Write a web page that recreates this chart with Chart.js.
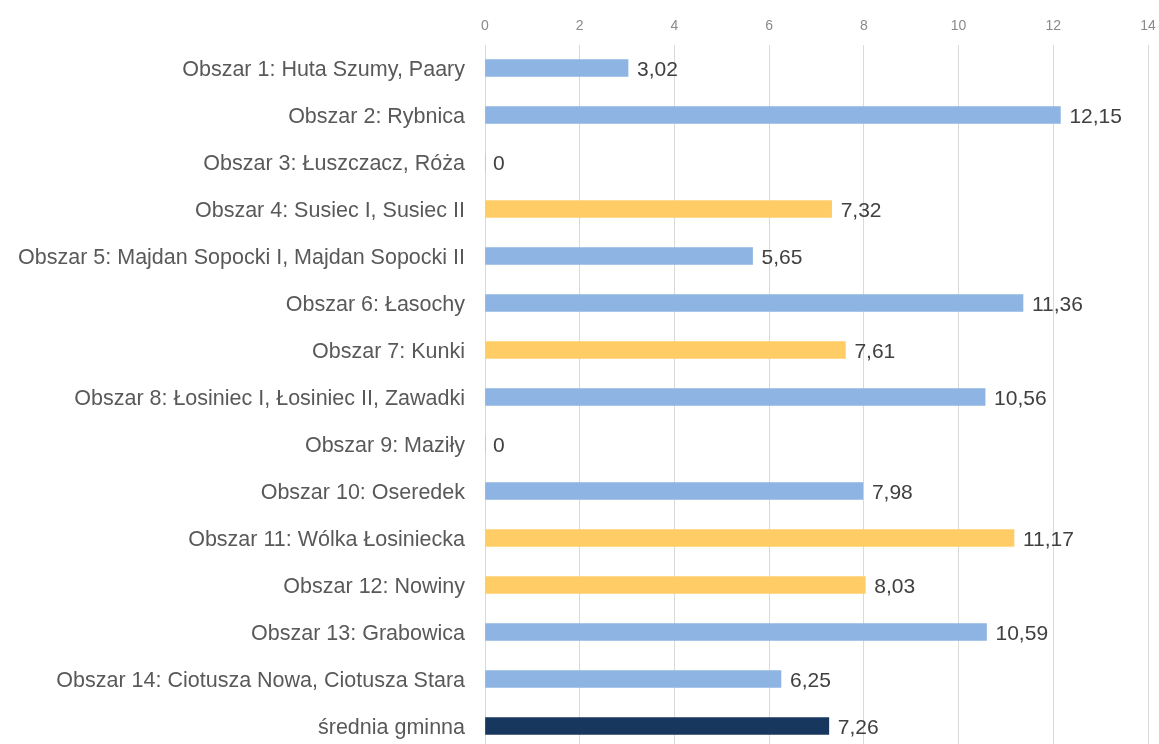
<!DOCTYPE html>
<html>
<head>
<meta charset="utf-8">
<script src="https://cdn.jsdelivr.net/npm/chart.js@4"></script>
<style>
html,body{margin:0;padding:0;background:#fff;overflow:hidden;}
canvas{display:block;}
</style>
</head>
<body>
<canvas id="c" width="1159" height="750" style="width:1159px;height:750px;"></canvas>
<script>
const categories = [
  "Obszar 1: Huta Szumy, Paary",
  "Obszar 2: Rybnica",
  "Obszar 3: Łuszczacz, Róża",
  "Obszar 4: Susiec I, Susiec II",
  "Obszar 5: Majdan Sopocki I, Majdan Sopocki II",
  "Obszar 6: Łasochy",
  "Obszar 7: Kunki",
  "Obszar 8: Łosiniec I, Łosiniec II, Zawadki",
  "Obszar 9: Maziły",
  "Obszar 10: Oseredek",
  "Obszar 11: Wólka Łosiniecka",
  "Obszar 12: Nowiny",
  "Obszar 13: Grabowica",
  "Obszar 14: Ciotusza Nowa, Ciotusza Stara",
  "średnia gminna"
];
const values = [3.02, 12.15, 0, 7.32, 5.65, 11.36, 7.61, 10.56, 0, 7.98, 11.17, 8.03, 10.59, 6.25, 7.26];
const groups = ["b","b","b","y","b","b","y","b","b","b","y","y","b","b","n"];
const groupColors = {b:"#8DB4E2", y:"#FFCC66", n:"#17375E"};
const xTicks = [0,2,4,6,8,10,12,14];

const labelPlugin = {
  id:'valLabels',
  afterDatasetsDraw(chart){
    const ctx = chart.ctx;
    const meta = chart.getDatasetMeta(0);
    ctx.save();
    ctx.font = '21px "Liberation Sans", Arial, sans-serif';
    ctx.fillStyle = '#404040';
    ctx.textAlign = 'left';
    ctx.textBaseline = 'middle';
    meta.data.forEach((el,i)=>{
      const v = values[i];
      const txt = v.toLocaleString('pl-PL',{minimumFractionDigits: v===0?0:2, maximumFractionDigits:2});
      ctx.fillText(txt, el.x + (v===0 ? 8 : 9), el.y + 2);
    });
    ctx.restore();
  }
};

new Chart(document.getElementById('c'), {
  type:'bar',
  data:{
    labels: categories,
    datasets:[{
      data: values,
      backgroundColor: groups.map(g=>groupColors[g]),
      barThickness: 17,
      borderWidth: 0
    }]
  },
  options:{
    indexAxis:'y',
    responsive:false,
    animation:false,
    devicePixelRatio:1,
    layout:{padding:{left:0,right:11,top:0,bottom:0.5}},
    plugins:{legend:{display:false},tooltip:{enabled:false}},
    scales:{
      x:{
        position:'top',
        min:0,max:14,
        afterBuildTicks(s){ s.ticks = xTicks.map(v=>({value:v})); },
        afterFit(s){ s.height = 44.5; s.paddingLeft = 0; s.paddingRight = 0; },
        grid:{color:'#D9D9D9',drawTicks:false,lineWidth:1},
        border:{display:false},
        ticks:{padding:10,color:'#8A8A8A',font:{family:'"Liberation Sans", Arial, sans-serif',size:14}}
      },
      y:{
        afterFit(s){ s.width = 485; s.paddingTop = 0; s.paddingBottom = 0; },
        grid:{display:false,drawTicks:false},
        border:{display:false},
        ticks:{padding:20,labelOffset:2,color:'#595959',font:{family:'"Liberation Sans", Arial, sans-serif',size:21.5}}
      }
    }
  },
  plugins:[labelPlugin]
});
</script>
</body>
</html>
